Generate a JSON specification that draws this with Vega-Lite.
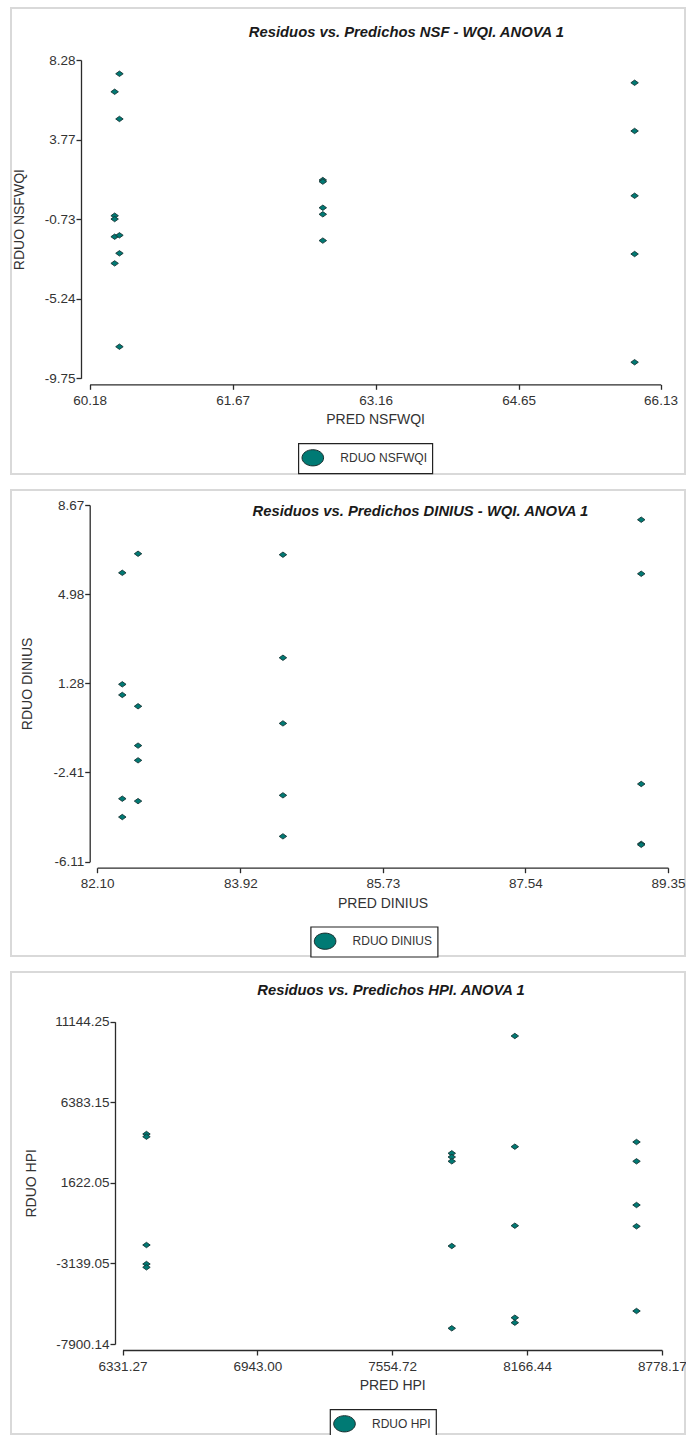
{
  "$schema": "https://vega.github.io/schema/vega-lite/v6.json",
  "padding": {"left": 10, "top": 7, "right": 0, "bottom": 0},
  "background": "white",
  "datasets": {
    "nsf": [
      {"pred": 60.49, "rduo": 7.50, "serie": "RDUO NSFWQI"},
      {"pred": 60.44, "rduo": 6.48, "serie": "RDUO NSFWQI"},
      {"pred": 60.49, "rduo": 4.94, "serie": "RDUO NSFWQI"},
      {"pred": 60.44, "rduo": -0.54, "serie": "RDUO NSFWQI"},
      {"pred": 60.44, "rduo": -0.73, "serie": "RDUO NSFWQI"},
      {"pred": 60.44, "rduo": -1.73, "serie": "RDUO NSFWQI"},
      {"pred": 60.49, "rduo": -1.65, "serie": "RDUO NSFWQI"},
      {"pred": 60.49, "rduo": -2.67, "serie": "RDUO NSFWQI"},
      {"pred": 60.44, "rduo": -3.24, "serie": "RDUO NSFWQI"},
      {"pred": 60.49, "rduo": -7.96, "serie": "RDUO NSFWQI"},
      {"pred": 62.61, "rduo": 1.48, "serie": "RDUO NSFWQI"},
      {"pred": 62.61, "rduo": 1.39, "serie": "RDUO NSFWQI"},
      {"pred": 62.61, "rduo": -0.09, "serie": "RDUO NSFWQI"},
      {"pred": 62.61, "rduo": -0.46, "serie": "RDUO NSFWQI"},
      {"pred": 62.61, "rduo": -1.95, "serie": "RDUO NSFWQI"},
      {"pred": 65.86, "rduo": 6.99, "serie": "RDUO NSFWQI"},
      {"pred": 65.86, "rduo": 4.26, "serie": "RDUO NSFWQI"},
      {"pred": 65.86, "rduo": 0.59, "serie": "RDUO NSFWQI"},
      {"pred": 65.86, "rduo": -2.71, "serie": "RDUO NSFWQI"},
      {"pred": 65.86, "rduo": -8.84, "serie": "RDUO NSFWQI"}
    ],
    "dinius": [
      {"pred": 82.42, "rduo": 5.86, "serie": "RDUO DINIUS"},
      {"pred": 82.42, "rduo": 1.24, "serie": "RDUO DINIUS"},
      {"pred": 82.42, "rduo": 0.80, "serie": "RDUO DINIUS"},
      {"pred": 82.42, "rduo": -3.50, "serie": "RDUO DINIUS"},
      {"pred": 82.42, "rduo": -4.26, "serie": "RDUO DINIUS"},
      {"pred": 82.62, "rduo": 6.65, "serie": "RDUO DINIUS"},
      {"pred": 82.62, "rduo": 0.33, "serie": "RDUO DINIUS"},
      {"pred": 82.62, "rduo": -1.30, "serie": "RDUO DINIUS"},
      {"pred": 82.62, "rduo": -1.91, "serie": "RDUO DINIUS"},
      {"pred": 82.62, "rduo": -3.60, "serie": "RDUO DINIUS"},
      {"pred": 84.46, "rduo": 6.61, "serie": "RDUO DINIUS"},
      {"pred": 84.46, "rduo": 2.34, "serie": "RDUO DINIUS"},
      {"pred": 84.46, "rduo": -0.38, "serie": "RDUO DINIUS"},
      {"pred": 84.46, "rduo": -3.36, "serie": "RDUO DINIUS"},
      {"pred": 84.46, "rduo": -5.06, "serie": "RDUO DINIUS"},
      {"pred": 89.01, "rduo": 8.06, "serie": "RDUO DINIUS"},
      {"pred": 89.01, "rduo": 5.82, "serie": "RDUO DINIUS"},
      {"pred": 89.01, "rduo": -2.89, "serie": "RDUO DINIUS"},
      {"pred": 89.01, "rduo": -5.37, "serie": "RDUO DINIUS"},
      {"pred": 89.01, "rduo": -5.41, "serie": "RDUO DINIUS"}
    ],
    "hpi": [
      {"pred": 6440, "rduo": 4508, "serie": "RDUO HPI"},
      {"pred": 6440, "rduo": 4349, "serie": "RDUO HPI"},
      {"pred": 6440, "rduo": -2051, "serie": "RDUO HPI"},
      {"pred": 6440, "rduo": -3174, "serie": "RDUO HPI"},
      {"pred": 6440, "rduo": -3369, "serie": "RDUO HPI"},
      {"pred": 7825, "rduo": 3368, "serie": "RDUO HPI"},
      {"pred": 7825, "rduo": 3149, "serie": "RDUO HPI"},
      {"pred": 7825, "rduo": 2895, "serie": "RDUO HPI"},
      {"pred": 7825, "rduo": -2110, "serie": "RDUO HPI"},
      {"pred": 7825, "rduo": -6973, "serie": "RDUO HPI"},
      {"pred": 8111, "rduo": 10299, "serie": "RDUO HPI"},
      {"pred": 8111, "rduo": 3758, "serie": "RDUO HPI"},
      {"pred": 8111, "rduo": -910, "serie": "RDUO HPI"},
      {"pred": 8111, "rduo": -6347, "serie": "RDUO HPI"},
      {"pred": 8111, "rduo": -6642, "serie": "RDUO HPI"},
      {"pred": 8663, "rduo": 4036, "serie": "RDUO HPI"},
      {"pred": 8663, "rduo": 2895, "serie": "RDUO HPI"},
      {"pred": 8663, "rduo": 313, "serie": "RDUO HPI"},
      {"pred": 8663, "rduo": -946, "serie": "RDUO HPI"},
      {"pred": 8663, "rduo": -5951, "serie": "RDUO HPI"}
    ]
  },
  "vconcat": [
    {
      "width": 674,
      "height": 466,
      "data": {"name": "nsf"},
      "title": {"text": "Residuos vs. Predichos NSF - WQI. ANOVA 1", "anchor": "middle", "frame": "group", "offset": 0, "baseline": "middle", "dx": 58.4, "dy": 39.3},
      "mark": {"type": "point", "filled": true, "shape": "M-1,0L0,-0.72L1,0L0,0.72Z", "size": 56, "stroke": "#173636", "strokeWidth": 0.9, "opacity": 1},
      "encoding": {
        "x": {"field": "pred", "type": "quantitative",
          "scale": {"domain": [60.18, 66.13], "range": [78.7, 649.5], "nice": false, "zero": false},
          "axis": {"title": "PRED NSFWQI", "values": [60.18, 61.67, 63.16, 64.65, 66.13], "format": ".2f", "offset": -89.7, "titlePadding": 6}},
        "y": {"field": "rduo", "type": "quantitative",
          "scale": {"domain": [-9.75, 8.28], "range": [370.3, 52], "nice": false, "zero": false},
          "axis": {"title": "RDUO NSFWQI", "values": [8.28, 3.77, -0.73, -5.24, -9.75], "format": ".2f", "labelExpr": "replace(datum.label, '−', '-')", "offset": -70, "titlePadding": 18}},
        "color": {"field": "serie", "type": "nominal", "scale": {"range": ["#007a74"]},
          "legend": {"orient": "none", "legendX": 287.3, "legendY": 435.3}}
      }
    },
    {
      "width": 674,
      "height": 466,
      "data": {"name": "dinius"},
      "title": {"text": "Residuos vs. Predichos DINIUS - WQI. ANOVA 1", "anchor": "middle", "frame": "group", "offset": 0, "baseline": "middle", "dx": 72.4, "dy": 36.5},
      "mark": {"type": "point", "filled": true, "shape": "M-1,0L0,-0.72L1,0L0,0.72Z", "size": 56, "stroke": "#173636", "strokeWidth": 0.9, "opacity": 1},
      "encoding": {
        "x": {"field": "pred", "type": "quantitative",
          "scale": {"domain": [82.10, 89.35], "range": [86.1, 657], "nice": false, "zero": false},
          "axis": {"title": "PRED DINIUS", "values": [82.10, 83.92, 85.73, 87.54, 89.35], "format": ".2f", "offset": -88.3, "titlePadding": 6}},
        "y": {"field": "rduo", "type": "quantitative",
          "scale": {"domain": [-6.11, 8.67], "range": [371.7, 15], "nice": false, "zero": false},
          "axis": {"title": "RDUO DINIUS", "values": [8.67, 4.98, 1.28, -2.41, -6.11], "format": ".2f", "labelExpr": "replace(datum.label, '−', '-')", "offset": -78.7, "titlePadding": 18}},
        "color": {"field": "serie", "type": "nominal", "scale": {"range": ["#007a74"]},
          "legend": {"orient": "none", "legendX": 299.6, "legendY": 436.7}}
      }
    },
    {
      "width": 674,
      "height": 462,
      "data": {"name": "hpi"},
      "title": {"text": "Residuos vs. Predichos HPI. ANOVA 1", "anchor": "middle", "frame": "group", "offset": 0, "baseline": "middle", "dx": 43, "dy": 34},
      "mark": {"type": "point", "filled": true, "shape": "M-1,0L0,-0.72L1,0L0,0.72Z", "size": 56, "stroke": "#173636", "strokeWidth": 0.9, "opacity": 1},
      "encoding": {
        "x": {"field": "pred", "type": "quantitative",
          "scale": {"domain": [6331.27, 8778.17], "range": [111.5, 650.9], "nice": false, "zero": false},
          "axis": {"title": "PRED HPI", "values": [6331.27, 6943.00, 7554.72, 8166.44, 8778.17], "format": ".2f", "offset": -84, "titlePadding": 6}},
        "y": {"field": "rduo", "type": "quantitative",
          "scale": {"domain": [-7900.14, 11144.25], "range": [372, 49.7], "nice": false, "zero": false},
          "axis": {"title": "RDUO HPI", "values": [11144.25, 6383.15, 1622.05, -3139.05, -7900.14], "format": ".2f", "labelExpr": "replace(datum.label, '−', '-')", "offset": -104, "titlePadding": 16}},
        "color": {"field": "serie", "type": "nominal", "scale": {"range": ["#007a74"]},
          "legend": {"orient": "none", "legendX": 319, "legendY": 437.3}}
      }
    }
  ],
  "spacing": 16,
  "bounds": "flush",
  "resolve": {"scale": {"color": "independent", "x": "independent", "y": "independent"}, "legend": {"color": "independent"}},
  "config": {
    "font": "Liberation Sans",
    "view": {"stroke": "#d9d9d9", "strokeWidth": 2},
    "title": {"font": "Liberation Sans", "fontSize": 14.8, "fontStyle": "italic", "fontWeight": "bold", "color": "#1a1a1a"},
    "axis": {
      "grid": false,
      "domainColor": "#2b2b2b",
      "domainWidth": 1.3,
      "tickColor": "#2b2b2b",
      "tickWidth": 1.3,
      "tickSize": 5,
      "labelFont": "Liberation Sans",
      "labelFontSize": 13.5,
      "labelColor": "#333333",
      "labelFlush": false,
      "labelOverlap": false,
      "titleFont": "Liberation Sans",
      "titleFontSize": 14,
      "titleFontWeight": "normal",
      "titleColor": "#333333"
    },
    "axisX": {"labelPadding": 4},
    "axisY": {"labelPadding": 1},
    "legend": {
      "title": null,
      "strokeColor": "#222222",
      "strokeWidth": 1.2,
      "fillColor": "white",
      "padding": 5,
      "symbolType": "M-1.2,0A1.2,0.9,0,1,1,1.2,0A1.2,0.9,0,1,1,-1.2,0Z",
      "symbolSize": 324,
      "symbolStrokeColor": "#1a2e2e",
      "symbolStrokeWidth": 1,
      "symbolOpacity": 1,
      "labelFont": "Liberation Sans",
      "labelFontSize": 12,
      "labelColor": "#333333",
      "labelOffset": 18
    }
  }
}
